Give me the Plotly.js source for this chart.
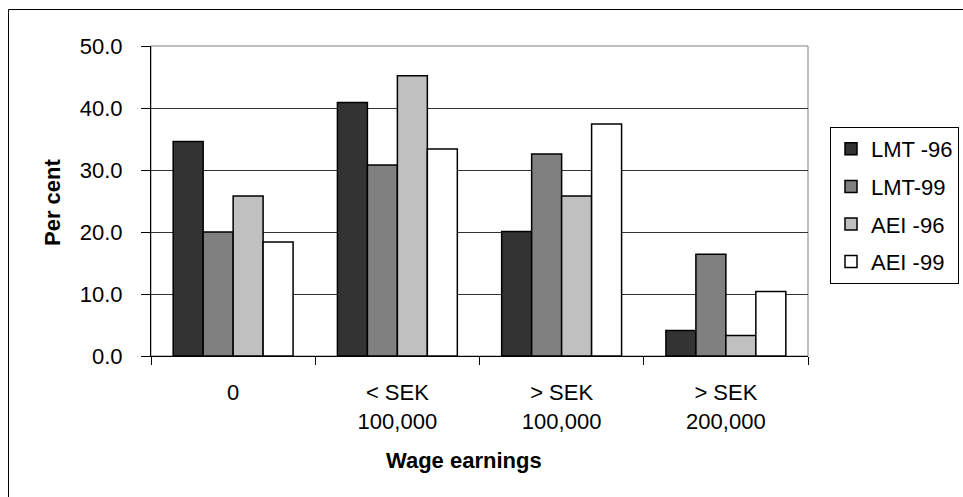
<!DOCTYPE html>
<html>
<head>
<meta charset="utf-8">
<script src="https://cdn.plot.ly/plotly-3.0.1.min.js"></script>
<style>
  html, body { margin: 0; padding: 0; background: #fff; }
  #chart { width: 963px; height: 497px; }
</style>
</head>
<body>
<div id="chart"></div>
<script>
// Wage earnings brackets (x categories)
const categories = ['0', '&lt; SEK<br>100,000', '&gt; SEK<br>100,000', '&gt; SEK<br>200,000'];

// Series names and shares in per cent
const seriesNames = ['LMT -96', 'LMT-99', 'AEI -96', 'AEI -99'];
const lmt96 = [34.6, 40.9, 20.1, 4.1];
const lmt99 = [20.0, 30.8, 32.6, 16.4];
const aei96 = [25.8, 45.2, 25.8, 3.3];
const aei99 = [18.4, 33.4, 37.4, 10.4];
const seriesValues = [lmt96, lmt99, aei96, aei99];

const fills = ['#333333', '#808080', '#c0c0c0', '#ffffff'];
const FONT = 'Liberation Sans, Arial, sans-serif';
const FS = 22;

const traces = seriesValues.map((vals, i) => ({
  type: 'bar',
  name: seriesNames[i],
  x: categories,
  y: vals,
  legendgroup: 'g' + i,
  marker: { color: fills[i], line: { color: '#000', width: 1.5 } },
  hoverinfo: 'y+name'
}));

// Plot area in pixels: x 151..808, y 46..356
const W = 963, H = 497;
const L = 151, R = 808, T = 46, B = 356;
const pw = R - L, ph = B - T;
const px = v => (v - L) / pw;
const py = v => (B - v) / ph;

const layout = {
  width: W,
  height: H,
  margin: { l: L, r: W - R, t: T, b: H - B, pad: 0, autoexpand: false },
  paper_bgcolor: '#fff',
  plot_bgcolor: '#fff',
  font: { family: FONT, size: FS, color: '#000' },
  barmode: 'group',
  bargap: 0.27,
  bargroupgap: 0,
  showlegend: true,
  legend: {
    x: px(830), y: py(127), xanchor: 'left', yanchor: 'top',
    bordercolor: '#000', borderwidth: 1, bgcolor: '#fff',
    font: { family: FONT, size: FS, color: '#000' },
    traceorder: 'grouped', tracegroupgap: 6
  },
  xaxis: {
    type: 'category',
    tickson: 'boundaries',
    ticks: 'outside', ticklen: 8, tickcolor: '#000', tickwidth: 1,
    showline: true, linecolor: '#000', linewidth: 1,
    showgrid: false, zeroline: false, automargin: false,
    tickfont: { family: FONT, size: FS, color: '#000' },
    ticklabelstandoff: 17
  },
  yaxis: {
    range: [0, 50], dtick: 10, tickformat: '.1f',
    ticks: 'outside', ticklen: 9, tickcolor: '#000', tickwidth: 1,
    showline: true, linecolor: '#000', linewidth: 1,
    showgrid: true, gridcolor: '#333', gridwidth: 1,
    zeroline: false, automargin: false,
    tickfont: { family: FONT, size: FS, color: '#000' },
    ticklabelstandoff: 14
  },
  shapes: [
    // plot area frame
    { type: 'rect', xref: 'paper', yref: 'paper', x0: 0, x1: 1, y0: 0, y1: 1,
      line: { color: '#808080', width: 1 }, layer: 'below' },
    // chart area border (runs off the right and bottom edges)
    { type: 'rect', xref: 'paper', yref: 'paper',
      x0: px(8.5), x1: px(1010), y0: py(540), y1: py(9.5),
      line: { color: '#000', width: 1 } }
  ],
  annotations: [
    { text: '<b>Per cent</b>', xref: 'paper', yref: 'paper',
      x: px(52), y: py(203), xanchor: 'center', yanchor: 'middle',
      textangle: -90, showarrow: false,
      font: { family: FONT, size: FS, color: '#000' } },
    { text: '<b>Wage earnings</b>', xref: 'paper', yref: 'paper',
      x: px(464), y: py(460), xanchor: 'center', yanchor: 'middle',
      showarrow: false,
      font: { family: FONT, size: FS, color: '#000' } }
  ]
};

Plotly.newPlot('chart', traces, layout, { displayModeBar: false, staticPlot: true });
</script>
</body>
</html>
